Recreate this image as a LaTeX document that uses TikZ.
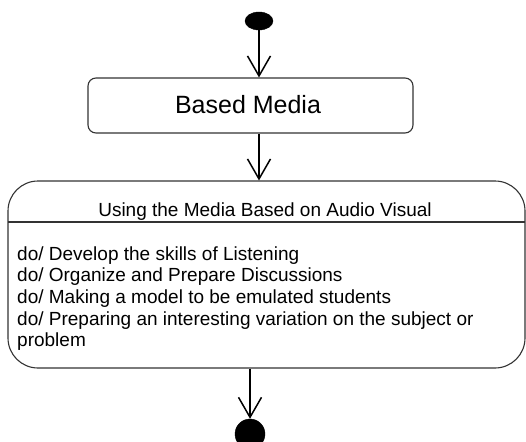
\documentclass[tikz,border=0pt]{standalone}
\usepackage{fontspec}
\setmainfont{Liberation Sans}
\usetikzlibrary{arrows.meta,shapes.geometric}
\tikzset{
  dot/.style={ellipse, fill=black, draw=black, inner sep=0pt},
  box/.style={draw=black!80, line width=1.1pt, inner sep=0pt},
  flow/.style={line width=1.5pt, -{Straight Barb[length=20pt,width=23pt]}},
  body/.style={font=\fontsize{19}{22}\selectfont, inner sep=0pt, anchor=base west},
}
\begin{document}
\begin{tikzpicture}[x=1pt,y=-1pt]
\useasboundingbox (0,0) rectangle (526,441);
% initial state
\node[dot, minimum width=28pt, minimum height=18pt] (start) at (259,21) {};
% simple state
\node[box, rounded corners=8pt, minimum width=325pt, minimum height=55pt] (based) at (250.5,105.5) {};
\node[font=\fontsize{25}{28}\selectfont, inner sep=0pt, anchor=base] (basedtxt) at (248,113) {Based Media};
% composite state
\node[box, rounded corners=30pt, minimum width=517pt, minimum height=187pt] (state) at (266.5,274.5) {};
\coordinate (sepL) at (8,222);
\coordinate (sepR) at (525,222);
\draw[draw=black!80, line width=1.1pt] (sepL) -- (sepR);
\node[body, anchor=base] (title) at (265,216) {Using the Media Based on Audio Visual};
\node[body] (l1) at (17,260) {do/ Develop the skills of Listening};
\node[body] (l2) at (17,281.7) {do/ Organize and Prepare Discussions};
\node[body] (l3) at (17,303.4) {do/ Making a model to be emulated students};
\node[body] (l4) at (17,325.1) {do/ Preparing an interesting variation on the subject or};
\node[body] (l5) at (17,346.8) {problem};
% final state
\node[dot, minimum width=30pt, minimum height=30pt] (end) at (250,434) {};
% transitions
\draw[flow] (start.south) -- (start.south |- based.north);
\draw[flow] (start.south |- based.south) -- (start.south |- state.north);
\draw[flow] (end.north |- state.south) -- (end.north);
\end{tikzpicture}
\end{document}
